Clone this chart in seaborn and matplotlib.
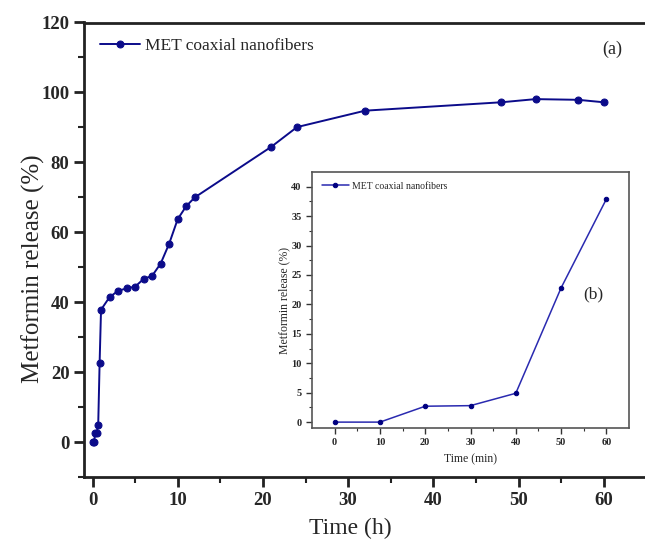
import matplotlib
matplotlib.use("Agg")
import matplotlib.pyplot as plt
import seaborn as sns
import pandas as pd

# Main release data (hours, %)
time_h = [0, 0.167, 0.333, 0.5, 0.667, 0.833, 1, 2, 3, 4, 5, 6, 7, 8, 9, 10, 11, 12,
          21, 24, 32, 48, 52, 57, 60]
release_main = [0, 0, 2.7, 2.8, 4.9, 22.8, 37.9, 41.5, 43.3, 44.0, 44.5, 46.7, 47.6, 51.1,
                56.8, 63.8, 67.5, 70.0, 84.5, 90.1, 94.8, 97.2, 98.1, 97.9, 97.2]
# Inset data (minutes, %)
time_min = [0, 10, 20, 30, 40, 50, 60]
release_inset = [0, 0, 2.7, 2.8, 4.9, 22.8, 37.9]
series_name = "MET coaxial nanofibers"

sns.set_style("ticks")
plt.rcParams['font.family'] = ['Liberation Serif', 'DejaVu Serif']

df_main = pd.DataFrame({"t": time_h, "r": release_main, "s": series_name})
df_in = pd.DataFrame({"t": time_min, "r": release_inset, "s": series_name})

fig = plt.figure(figsize=(6.45, 5.42), dpi=100)
ax = fig.add_axes([84/645, 64.7/542, 564/645, 454.8/542])

navy = "#0b0b8a"
sns.lineplot(data=df_main, x="t", y="r", hue="s", palette=[navy], marker="o",
             markersize=5, markeredgecolor=navy, linewidth=1.4, ax=ax)
ax.set_xlim(-1, 65.2)
ax.set_ylim(-10, 120)
ax.set_xticks([0, 10, 20, 30, 40, 50, 60])
ax.set_xticks([5, 15, 25, 35, 45, 55], minor=True)
ax.set_yticks([0, 20, 40, 60, 80, 100, 120])
ax.set_yticks([-10, 10, 30, 50, 70, 90, 110], minor=True)
for lab in ax.get_xticklabels() + ax.get_yticklabels():
    lab.set_fontweight("bold")
ax.tick_params(axis="both", which="major", direction="out", length=7, width=2,
               labelsize=13.5, color="#222222")
ax.tick_params(axis="both", which="minor", direction="out", length=4, width=1.5,
               color="#222222")
for sp in ax.spines.values():
    sp.set_linewidth(2)
    sp.set_color("#222222")
ax.set_xlabel("Time (h)", fontsize=17)
ax.set_ylabel("Metformin release (%)", fontsize=18)
ax.xaxis.set_label_coords(0.472, -0.09)
ax.yaxis.set_label_coords(-0.07, 0.458)
ax.legend(loc="upper left", frameon=False, fontsize=12.5, handlelength=2.3,
          handletextpad=0.3, borderaxespad=0.5, bbox_to_anchor=(0.0, 1.0))
ax.text(0.955, 0.94, "(a)", transform=ax.transAxes, fontsize=13, ha="right", va="center")

# Inset
axi = fig.add_axes([312/645, (542-428)/542, 317/645, 256/542])
sns.lineplot(data=df_in, x="t", y="r", hue="s", palette=["#2a2ab0"], marker="o",
             markersize=3.2, markerfacecolor="#000080", markeredgecolor="#000080",
             linewidth=1.1, ax=axi)
axi.set_xlim(-5, 65)
axi.set_ylim(-1, 42.5)
axi.set_xticks([0, 10, 20, 30, 40, 50, 60])
axi.set_xticks([5, 15, 25, 35, 45, 55], minor=True)
axi.set_yticks([0, 5, 10, 15, 20, 25, 30, 35, 40])
axi.set_yticks([2.5, 7.5, 12.5, 17.5, 22.5, 27.5, 32.5, 37.5], minor=True)
for lab in axi.get_xticklabels() + axi.get_yticklabels():
    lab.set_fontweight("bold")
axi.tick_params(axis="both", which="major", direction="out", length=4, width=1,
                labelsize=7.5, color="#333333")
axi.tick_params(axis="both", which="minor", direction="out", length=2, width=0.8,
                color="#333333")
for sp in axi.spines.values():
    sp.set_linewidth(1.2)
    sp.set_color("#555555")
axi.set_xlabel("Time (min)", fontsize=8.5, labelpad=4)
axi.set_ylabel("Metformin release (%)", fontsize=8.5, labelpad=1)
axi.legend(loc="upper left", frameon=False, fontsize=7, handlelength=2.8,
           handletextpad=0.3, borderaxespad=0.6)
axi.text(0.886, 0.52, "(b)", transform=axi.transAxes, fontsize=12.5, ha="center", va="center")

fig.savefig("out.png", dpi=100)
